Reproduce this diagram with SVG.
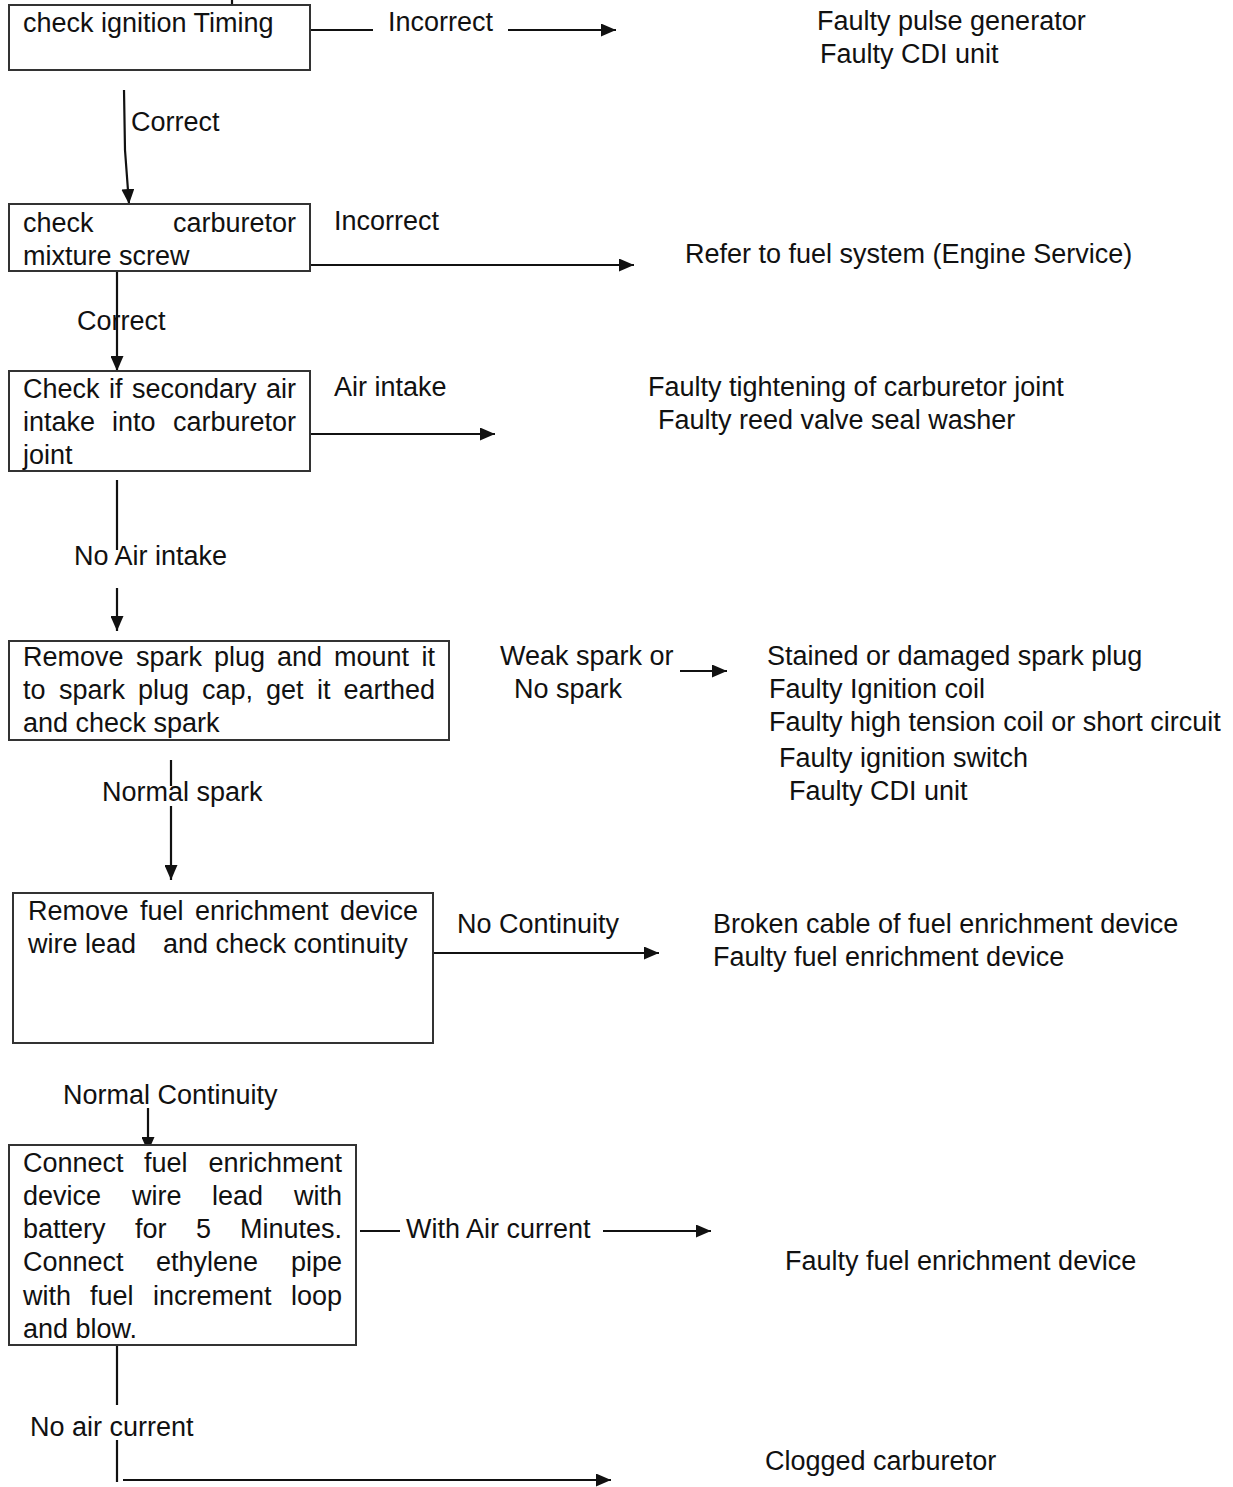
<svg xmlns="http://www.w3.org/2000/svg" width="1233" height="1487" viewBox="0 0 1233 1487">
<defs>
<style>
text{font-family:"Liberation Sans",Arial,sans-serif;font-size:27px;fill:#111}
.box{fill:#fff;stroke:#333;stroke-width:2}
.ln{fill:none;stroke:#111;stroke-width:2.2}
.e{text-anchor:end}
</style>
<marker id="ah" markerUnits="userSpaceOnUse" markerWidth="15" markerHeight="13" refX="15" refY="6.5" orient="auto">
<path d="M0,0 L15,6.5 L0,13 z" fill="#111"/>
</marker>
</defs>
<rect width="1233" height="1487" fill="#fff"/>

<g id="connectors">
<line class="ln" x1="232" y1="0" x2="232" y2="5"/>
<line class="ln" x1="306" y1="30" x2="373" y2="30"/>
<line class="ln" x1="508" y1="30" x2="616" y2="30" marker-end="url(#ah)"/>
<text x="388" y="31">Incorrect</text>
<path class="ln" d="M124,90 L125,150 L129,204" marker-end="url(#ah)"/>
<text x="131" y="131">Correct</text>
<line class="ln" x1="310" y1="265" x2="634" y2="265" marker-end="url(#ah)"/>
<text x="334" y="230">Incorrect</text>
<line class="ln" x1="117" y1="271" x2="117" y2="371" marker-end="url(#ah)"/>
<text x="77" y="330">Correct</text>
<line class="ln" x1="310" y1="434" x2="495" y2="434" marker-end="url(#ah)"/>
<text x="334" y="396">Air intake</text>
<line class="ln" x1="117" y1="480" x2="117" y2="550"/>
<text x="74" y="565">No Air intake</text>
<line class="ln" x1="117" y1="588" x2="117" y2="631" marker-end="url(#ah)"/>
<text x="500" y="665">Weak spark or</text>
<text x="514" y="698">No spark</text>
<line class="ln" x1="680" y1="671" x2="727" y2="671" marker-end="url(#ah)"/>
<line class="ln" x1="171" y1="760" x2="171" y2="786"/>
<text x="102" y="801">Normal spark</text>
<line class="ln" x1="171" y1="806" x2="171" y2="880" marker-end="url(#ah)"/>
<line class="ln" x1="428" y1="953" x2="659" y2="953" marker-end="url(#ah)"/>
<text x="457" y="933">No Continuity</text>
<text x="63" y="1104">Normal Continuity</text>
<line class="ln" x1="148" y1="1108" x2="148" y2="1152" marker-end="url(#ah)"/>
<line class="ln" x1="360" y1="1231" x2="400" y2="1231"/>
<text x="406" y="1238">With Air current</text>
<line class="ln" x1="603" y1="1231" x2="711" y2="1231" marker-end="url(#ah)"/>
<line class="ln" x1="117" y1="1345" x2="117" y2="1405"/>
<text x="30" y="1436">No air current</text>
<line class="ln" x1="117" y1="1440" x2="117" y2="1482"/>
<line class="ln" x1="123" y1="1480" x2="611" y2="1480" marker-end="url(#ah)"/>
</g>

<g id="n1">
<rect class="box" x="9" y="5" width="301" height="65"/>
<text x="23" y="32">check ignition Timing</text>
</g>

<g id="n2">
<rect class="box" x="9" y="204" width="301" height="67"/>
<text x="23" y="232">check</text>
<text class="e" x="296" y="232">carburetor</text>
<text x="23" y="265">mixture screw</text>
</g>

<g id="n3">
<rect class="box" x="9" y="371" width="301" height="100"/>
<text y="398"><tspan x="23">Check</tspan><tspan x="109">if</tspan><tspan x="132">secondary</tspan></text>
<text class="e" x="296" y="398">air</text>
<text y="431"><tspan x="23">intake</tspan><tspan x="112">into</tspan></text>
<text class="e" x="296" y="431">carburetor</text>
<text x="23" y="464">joint</text>
</g>

<g id="n4">
<rect class="box" x="9" y="641" width="440" height="99"/>
<text y="666"><tspan x="23">Remove</tspan><tspan x="136">spark</tspan><tspan x="214">plug</tspan><tspan x="277">and</tspan><tspan x="334">mount</tspan></text>
<text class="e" x="435" y="666">it</text>
<text y="699"><tspan x="23">to</tspan><tspan x="59">spark</tspan><tspan x="138">plug</tspan><tspan x="202">cap,</tspan><tspan x="266">get</tspan><tspan x="317">it</tspan></text>
<text class="e" x="435" y="699">earthed</text>
<text x="23" y="732">and check spark</text>
</g>

<g id="n5">
<rect class="box" x="13" y="893" width="420" height="150"/>
<text y="920"><tspan x="28">Remove</tspan><tspan x="140">fuel</tspan><tspan x="195">enrichment</tspan></text>
<text class="e" x="418" y="920">device</text>
<text y="953"><tspan x="28">wire lead</tspan><tspan x="163">and check continuity</tspan></text>
</g>

<g id="n6">
<rect class="box" x="9" y="1145" width="347" height="200"/>
<text y="1172"><tspan x="23">Connect</tspan><tspan x="144">fuel</tspan></text>
<text class="e" x="342" y="1172">enrichment</text>
<text y="1205"><tspan x="23">device</tspan><tspan x="132">wire</tspan><tspan x="212">lead</tspan></text>
<text class="e" x="342" y="1205">with</text>
<text y="1238"><tspan x="23">battery</tspan><tspan x="135">for</tspan><tspan x="196">5</tspan></text>
<text class="e" x="342" y="1238">Minutes.</text>
<text y="1271"><tspan x="23">Connect</tspan><tspan x="156">ethylene</tspan></text>
<text class="e" x="342" y="1271">pipe</text>
<text y="1305"><tspan x="23">with</tspan><tspan x="90">fuel</tspan><tspan x="153">increment</tspan></text>
<text class="e" x="342" y="1305">loop</text>
<text x="23" y="1338">and blow.</text>
</g>

<g id="o1">
<text x="817" y="30">Faulty pulse generator</text>
<text x="820" y="63">Faulty CDI unit</text>
</g>
<g id="o2">
<text x="685" y="263">Refer to fuel system (Engine Service)</text>
</g>
<g id="o3">
<text x="648" y="396">Faulty tightening of carburetor joint</text>
<text x="658" y="429">Faulty reed valve seal washer</text>
</g>
<g id="o4">
<text x="767" y="665">Stained or damaged spark plug</text>
<text x="769" y="698">Faulty Ignition coil</text>
<text x="769" y="731">Faulty high tension coil or short circuit</text>
<text x="779" y="767">Faulty ignition switch</text>
<text x="789" y="800">Faulty CDI unit</text>
</g>
<g id="o5">
<text x="713" y="933">Broken cable of fuel enrichment device</text>
<text x="713" y="966">Faulty fuel enrichment device</text>
</g>
<g id="o6">
<text x="785" y="1270">Faulty fuel enrichment device</text>
</g>
<g id="o7">
<text x="765" y="1470">Clogged carburetor</text>
</g>
</svg>
